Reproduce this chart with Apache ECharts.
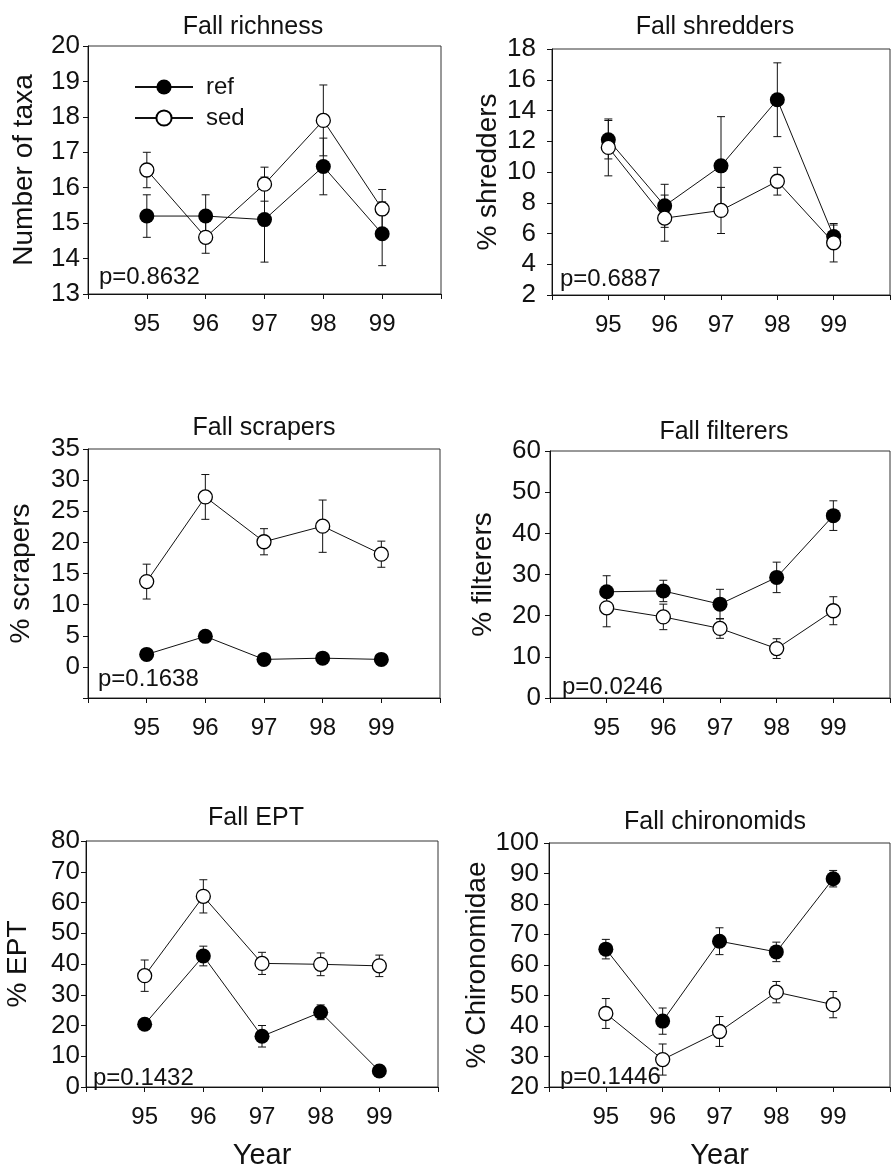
<!DOCTYPE html>
<html>
<head>
<meta charset="utf-8">
<script src="https://cdn.jsdelivr.net/npm/echarts@6/dist/echarts.min.js"></script>
<style>
  html, body { margin: 0; background: #fff; }
  #chart { width: 893px; height: 1171px; }
</style>
</head>
<body>
<div id="chart"></div>
<script>
// --- Data (mean and SE per year) ---
const years = [95, 96, 97, 98, 99];
const yearEnds = [94, 100]; // axis ends, no label

const richRef = [15.2, 15.2, 15.1, 16.6, 14.7];
const richRefSe = [0.6, 0.6, 1.2, 0.8, 0.9];
const richSed = [16.5, 14.6, 16.1, 17.9, 15.4];
const richSedSe = [0.5, 0.45, 0.48, 1.0, 0.55];

const shredRef = [12.1, 7.8, 10.4, 14.7, 5.8];
const shredRefSe = [1.25, 1.4, 3.2, 2.4, 0.75];
const shredSed = [11.6, 7.0, 7.5, 9.4, 5.4];
const shredSedSe = [1.85, 1.5, 1.5, 0.9, 1.25];

const scrapRef = [2.0, 4.9, 1.2, 1.4, 1.2];
const scrapRefSe = [0.3, 0.8, 0.3, 0.3, 0.3];
const scrapSed = [13.7, 27.3, 20.1, 22.6, 18.1];
const scrapSedSe = [2.8, 3.6, 2.1, 4.2, 2.1];

const filtRef = [25.8, 26.0, 22.8, 29.3, 44.3];
const filtRefSe = [3.9, 2.6, 3.6, 3.7, 3.6];
const filtSed = [21.9, 19.7, 16.9, 12.0, 21.2];
const filtSedSe = [4.6, 3.1, 2.4, 2.4, 3.4];

const eptRef = [20.4, 42.6, 16.5, 24.3, 5.2];
const eptRefSe = [0.8, 3.2, 3.5, 2.4, 0.5];
const eptSed = [36.2, 62.0, 40.2, 39.9, 39.4];
const eptSedSe = [5.1, 5.4, 3.6, 3.7, 3.5];

const chirRef = [65.2, 41.6, 67.8, 64.3, 88.3];
const chirRefSe = [3.2, 4.3, 4.4, 3.2, 2.7];
const chirSed = [44.1, 29.0, 38.2, 51.1, 47.0];
const chirSedSe = [4.9, 5.1, 4.9, 3.5, 4.3];

const panelTitles = ['Fall richness', 'Fall shredders', 'Fall scrapers', 'Fall filterers', 'Fall EPT', 'Fall chironomids'];
const yNames = ['Number of taxa', '% shredders', '% scrapers', '% filterers', '% EPT', '% Chironomidae'];
const pValues = ['p=0.8632', 'p=0.6887', 'p=0.1638', 'p=0.0246', 'p=0.1432', 'p=0.1446'];
const yRanges = [[13, 20, 1], [2, 18, 2], [-5, 35, 5], [0, 60, 10], [0, 80, 10], [20, 100, 10]];
const yHidden = [-5]; // tick with no label in the scrapers panel
const xName = 'Year';

const panels = [
  { ref: richRef, refSe: richRefSe, sed: richSed, sedSe: richSedSe },
  { ref: shredRef, refSe: shredRefSe, sed: shredSed, sedSe: shredSedSe },
  { ref: scrapRef, refSe: scrapRefSe, sed: scrapSed, sedSe: scrapSedSe },
  { ref: filtRef, refSe: filtRefSe, sed: filtSed, sedSe: filtSedSe },
  { ref: eptRef, refSe: eptRefSe, sed: eptSed, sedSe: eptSedSe },
  { ref: chirRef, refSe: chirRefSe, sed: chirSed, sedSe: chirSedSe }
];

// --- Layout (pixels) ---
const layout = [
  { left: 88, top: 46, width: 353, height: 248, tx: 253, ty: 15, lm: 8, ng: 50, px: 99, py: 277 },
  { left: 552, top: 49, width: 354, height: 246, tx: 715, ty: 15, lm: 16, ng: 50, px: 560, py: 279 },
  { left: 88, top: 449, width: 352, height: 249, tx: 264, ty: 416, lm: 8, ng: 53, px: 98, py: 679 },
  { left: 550, top: 451, width: 353, height: 247, tx: 724, ty: 420, lm: 9, ng: 53, px: 562, py: 687 },
  { left: 86, top: 841, width: 352, height: 246, tx: 256, ty: 806, lm: 6, ng: 54, px: 93, py: 1078 },
  { left: 549, top: 843, width: 354, height: 247, tx: 715, ty: 810, lm: 10, ng: 57, px: 560, py: 1077 }
];

const FONT = 'Liberation Sans, Arial, Helvetica, sans-serif';
const INK = '#111';

function errData(vals, se) {
  return years.map((y, i) => [y, vals[i] - se[i], vals[i] + se[i]]);
}

function renderErr(params, api) {
  const x = api.value(0);
  const top = api.coord([x, api.value(2)]);
  const bot = api.coord([x, api.value(1)]);
  const w = 4;
  const st = { stroke: INK, lineWidth: 1 };
  return {
    type: 'group',
    children: [
      { type: 'line', shape: { x1: top[0], y1: top[1], x2: bot[0], y2: bot[1] }, style: st },
      { type: 'line', shape: { x1: top[0] - w, y1: top[1], x2: top[0] + w, y2: top[1] }, style: st },
      { type: 'line', shape: { x1: bot[0] - w, y1: bot[1], x2: bot[0] + w, y2: bot[1] }, style: st }
    ]
  };
}

const grid = [], xAxis = [], yAxis = [], series = [], title = [], graphic = [];

panels.forEach((p, k) => {
  const L = layout[k];
  const [ymin, ymax, step] = yRanges[k];
  const bottomRow = k >= 4;

  grid.push({ left: L.left, top: L.top, width: L.width, height: L.height, show: true,
    borderColor: '#333', borderWidth: 1, backgroundColor: 'transparent' });

  xAxis.push({
    gridIndex: k, type: 'value', min: yearEnds[0], max: yearEnds[1], interval: 1,
    name: bottomRow ? xName : '', nameLocation: 'middle', nameGap: 54,
    nameTextStyle: { fontFamily: FONT, fontSize: 29, color: INK },
    axisLine: { onZero: false, lineStyle: { color: INK, width: 1 } },
    axisTick: { inside: false, length: 5, lineStyle: { color: INK } },
    axisLabel: { margin: 18, fontFamily: FONT, fontSize: 24, color: INK,
      formatter: v => (yearEnds.includes(v) ? '' : String(v)) },
    splitLine: { show: false }
  });

  yAxis.push({
    gridIndex: k, type: 'value', min: ymin, max: ymax, interval: step,
    name: yNames[k], nameLocation: 'middle', nameGap: L.ng, nameRotate: 90,
    nameTextStyle: { fontFamily: FONT, fontSize: 28, color: INK },
    axisLine: { show: true, onZero: false, lineStyle: { color: INK, width: 1 } },
    axisTick: { show: true, inside: false, length: 5, lineStyle: { color: INK } },
    axisLabel: { margin: L.lm, fontFamily: FONT, fontSize: 26, color: INK,
      formatter: v => (yHidden.includes(v) ? '' : String(v)) },
    splitLine: { show: false }
  });

  title.push({ text: panelTitles[k], left: L.tx, top: L.ty, textAlign: 'center', padding: 0,
    textStyle: { fontFamily: FONT, fontSize: 25, fontWeight: 'normal', color: INK } });

  graphic.push({ type: 'text', x: L.px, y: L.py, z: 10,
    style: { text: pValues[k], font: '24px ' + FONT, fill: INK, verticalAlign: 'middle', align: 'left' } });

  series.push(
    { name: 'ref SE', type: 'custom', xAxisIndex: k, yAxisIndex: k, z: 1,
      renderItem: renderErr, encode: { x: 0, y: [1, 2] }, data: errData(p.ref, p.refSe) },
    { name: 'sed SE', type: 'custom', xAxisIndex: k, yAxisIndex: k, z: 1,
      renderItem: renderErr, encode: { x: 0, y: [1, 2] }, data: errData(p.sed, p.sedSe) },
    { name: 'ref', type: 'line', xAxisIndex: k, yAxisIndex: k, z: 2,
      symbol: 'circle', symbolSize: 15, showAllSymbol: true,
      lineStyle: { color: INK, width: 1 },
      itemStyle: { color: '#000', borderColor: '#000', borderWidth: 0 },
      data: years.map((y, i) => [y, p.ref[i]]) },
    { name: 'sed', type: 'line', xAxisIndex: k, yAxisIndex: k, z: 3,
      symbol: 'circle', symbolSize: 14, showAllSymbol: true,
      lineStyle: { color: INK, width: 1 },
      itemStyle: { color: '#fff', borderColor: '#000', borderWidth: 1.3 },
      data: years.map((y, i) => [y, p.sed[i]]) }
  );
});

const chart = echarts.init(document.getElementById('chart'), null, { renderer: 'canvas' });
chart.setOption({
  animation: false,
  backgroundColor: '#fff',
  title,
  grid,
  xAxis,
  yAxis,
  series,
  graphic,
  legend: {
    data: ['ref', 'sed'], orient: 'vertical', left: 134, top: 75, padding: 0,
    itemWidth: 58, itemHeight: 19, itemGap: 7,
    textStyle: { fontFamily: FONT, fontSize: 24, color: INK, padding: [0, 0, 0, 8] }
  }
});
</script>
</body>
</html>
